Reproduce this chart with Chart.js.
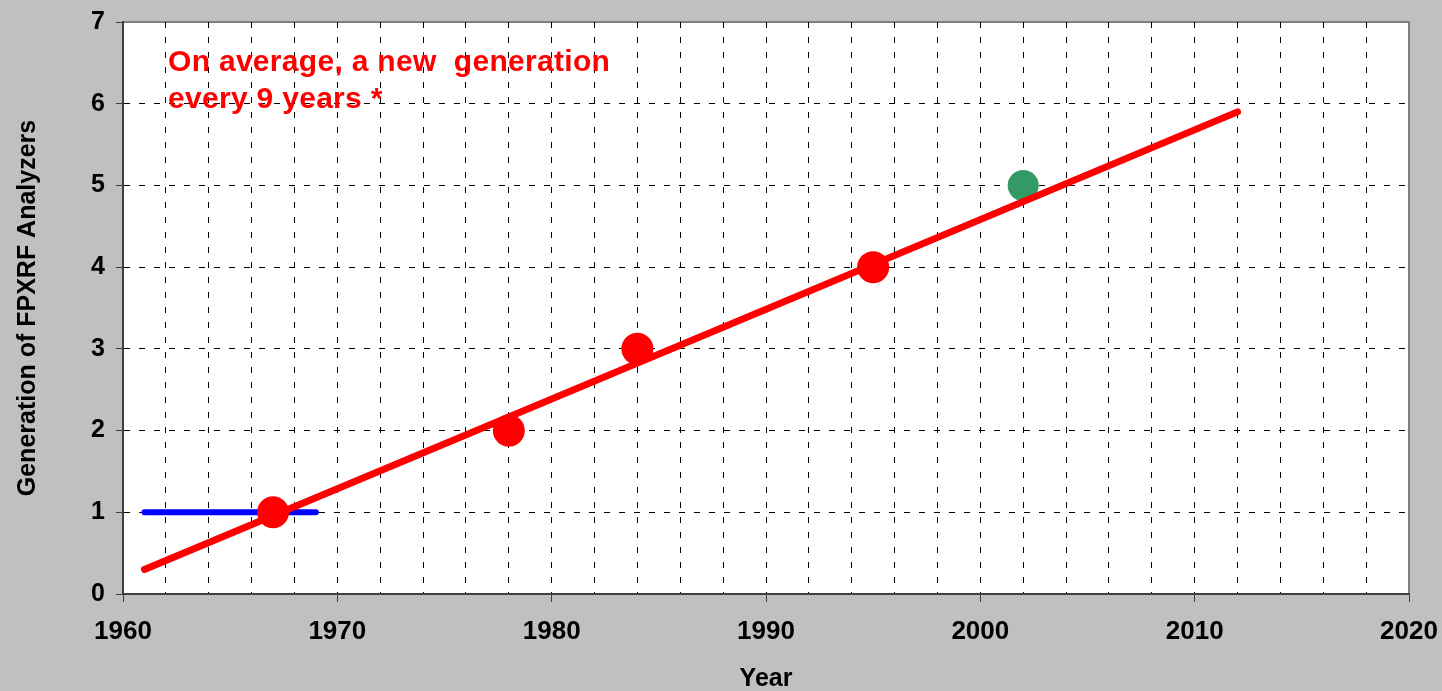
<!DOCTYPE html>
<html>
<head>
<meta charset="utf-8">
<script src="https://cdn.jsdelivr.net/npm/chart.js@4/dist/chart.umd.min.js"></script>
<style>
    html, body { margin: 0; padding: 0; background: #c0c0c0; }
    canvas { display: block; }
</style>
</head>
<body>
<canvas id="myChart" width="1442" height="691"></canvas>
<script>
// datos
var trend_years = [1961, 2012];
var trend_values = [0.3, 5.9];
var blue_years = [1961, 1969];
var blue_values = [1, 1];
var red_years = [1967, 1978, 1984, 1995];
var red_values = [1, 2, 3, 4];
var green_years = [2002];
var green_values = [5];
var note_lines = ['On average, a new  generation', 'every 9 years *'];

function toPoints(xs, ys) {
    return xs.map(function(x, i) {
        return { x: x, y: ys[i] };
    });
}

var fondo = {
    id: 'fondo',
    beforeDraw: function(chart) {
        var ctx = chart.ctx;
        var a = chart.chartArea;
        ctx.save();
        ctx.fillStyle = '#c0c0c0';
        ctx.fillRect(0, 0, chart.width, chart.height);
        ctx.fillStyle = '#ffffff';
        ctx.fillRect(a.left, a.top, a.right - a.left, a.bottom - a.top);
        ctx.strokeStyle = '#808080';
        ctx.lineWidth = 2;
        ctx.beginPath();
        ctx.moveTo(a.left, a.top);
        ctx.lineTo(a.right, a.top);
        ctx.lineTo(a.right, a.bottom);
        ctx.stroke();
        ctx.restore();
    },
    afterDraw: function(chart) {
        var ctx = chart.ctx;
        ctx.save();
        ctx.fillStyle = '#ff0000';
        ctx.font = 'bold 30px "Liberation Sans", Arial, sans-serif';
        ctx.letterSpacing = '0.3px';
        ctx.textBaseline = 'alphabetic';
        ctx.fillText(note_lines[0], 168, 71);
        ctx.fillText(note_lines[1], 168, 108);
        ctx.restore();
    }
};

Chart.defaults.font.family = '"Liberation Sans", Arial, sans-serif';
Chart.defaults.color = '#000';

var transparente = 'rgba(0,0,0,0)';

var ctx = document.getElementById('myChart').getContext('2d');
var myChart = new Chart(ctx, {
    type: 'scatter',
    data: {
        datasets: [{
            label: 'Trend',
            data: toPoints(trend_years, trend_values),
            showLine: true,
            borderColor: '#ff0000',
            borderWidth: 7,
            borderCapStyle: 'round',
            pointRadius: 0,
            order: 0
        }, {
            label: 'Next',
            data: toPoints(green_years, green_values),
            backgroundColor: '#339966',
            borderWidth: 0,
            pointRadius: 15.5,
            order: 1
        }, {
            label: 'Generations',
            data: toPoints(red_years, red_values),
            backgroundColor: '#ff0000',
            borderWidth: 0,
            pointRadius: 16,
            order: 2
        }, {
            label: 'First',
            data: toPoints(blue_years, blue_values),
            showLine: true,
            borderColor: '#0000ff',
            borderWidth: 6,
            borderCapStyle: 'round',
            pointRadius: 0,
            order: 3
        }]
    },
    options: {
        responsive: false,
        devicePixelRatio: 1,
        animation: false,
        layout: { padding: { top: 22, right: 33, left: 0, bottom: 0 } },
        plugins: {
            legend: { display: false },
            tooltip: { enabled: false }
        },
        scales: {
            x: {
                type: 'linear',
                min: 1960,
                max: 2020,
                ticks: {
                    stepSize: 2,
                    autoSkip: false,
                    maxRotation: 0,
                    padding: 14,
                    color: '#000',
                    font: { size: 26, weight: 'bold' },
                    callback: function(v) {
                        return v % 10 === 0 ? String(v) : '';
                    }
                },
                grid: {
                    color: function(c) {
                        var v = c.tick ? c.tick.value : null;
                        return (v === 1960 || v === 2020) ? transparente : '#000';
                    },
                    tickColor: function(c) {
                        return (c.tick && c.tick.value % 10 === 0) ? '#404040' : transparente;
                    },
                    tickLength: 8,
                    tickWidth: 1,
                    lineWidth: 1
                },
                border: { color: '#404040', width: 2, dash: [6, 9] },
                title: {
                    display: true,
                    text: 'Year',
                    color: '#000',
                    font: { size: 25, weight: 'bold' },
                    padding: { top: 0, bottom: -3 }
                },
                afterFit: function(s) {
                    s.height = 97;
                    s.paddingLeft = 0;
                    s.paddingRight = 0;
                }
            },
            y: {
                min: 0,
                max: 7,
                ticks: {
                    stepSize: 1,
                    padding: 11,
                    color: '#000',
                    font: { size: 25, weight: 'bold' }
                },
                grid: {
                    color: function(c) {
                        var v = c.tick ? c.tick.value : null;
                        return (v === 0 || v === 7) ? transparente : '#000';
                    },
                    tickColor: '#404040',
                    tickLength: 7,
                    tickWidth: 1,
                    lineWidth: 1
                },
                border: { color: '#404040', width: 2, dash: [6, 9] },
                title: {
                    display: true,
                    text: 'Generation of FPXRF Analyzers',
                    color: '#000',
                    font: { size: 25, weight: 'bold' },
                    padding: { top: 13, bottom: 0 }
                },
                afterFit: function(s) {
                    s.width = 123;
                    s.paddingTop = 0;
                    s.paddingBottom = 0;
                }
            }
        }
    },
    plugins: [fondo]
});
</script>
</body>
</html>
